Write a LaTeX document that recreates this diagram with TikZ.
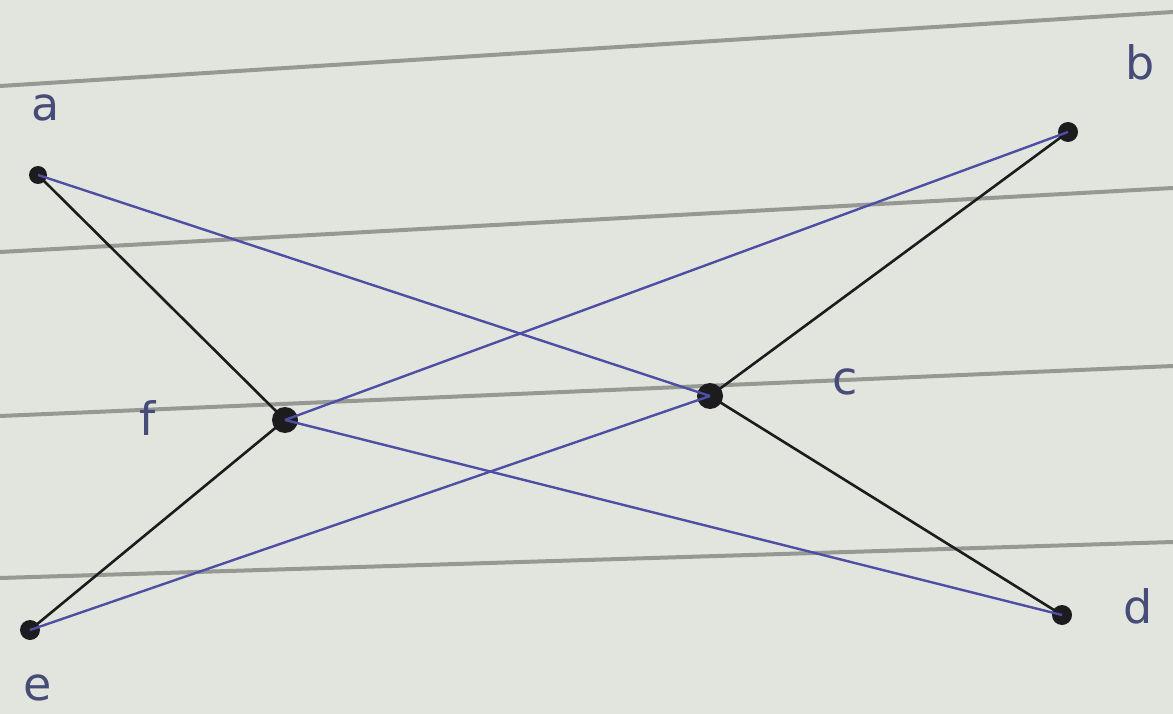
\documentclass[tikz,border=0pt]{standalone}
\usepackage{fontspec}
\setmainfont{DejaVu Sans}
\definecolor{paper}{RGB}{226,229,222}
\definecolor{rule}{RGB}{150,152,148}
\definecolor{penblue}{RGB}{78,78,165}
\definecolor{penblack}{RGB}{28,28,30}
\definecolor{labelc}{RGB}{70,75,120}
\tikzset{
  vtx/.style={circle,fill=penblack,inner sep=0pt,minimum size=20pt},
  blk/.style={draw=penblack,line width=2.6pt},
  blu/.style={draw=penblue,line width=2.4pt},
  ruled/.style={draw=rule,line width=4pt},
  lbl/.style={text=labelc,font=\fontsize{46}{46}\selectfont}
}
\begin{document}
\begin{tikzpicture}[x=1pt,y=-1pt]
\fill[paper] (0,0) rectangle (1173,714);
\useasboundingbox (0,0) rectangle (1173,714);
% paper rulings
\draw[ruled] (0,86) -- (1173,12);
\draw[ruled] (0,252) -- (1173,188);
\draw[ruled] (0,416) -- (1173,366);
\draw[ruled] (0,578) -- (1173,542);
% vertices
\node[vtx,minimum size=18pt] (a) at (38,175) {};
\node[vtx] (b) at (1068,132) {};
\node[vtx,minimum size=26pt] (c) at (710,396) {};
\node[vtx] (d) at (1062,615) {};
\node[vtx] (e) at (30,630) {};
\node[vtx,minimum size=26pt] (f) at (285,420) {};
% edges
\draw[blk] (a.center) -- (f.center);
\draw[blk] (f.center) -- (e.center);
\draw[blk] (b.center) -- (c.center);
\draw[blk] (c.center) -- (d.center);
\draw[blu] (a.center) -- (c.center);
\draw[blu] (b.center) -- (f.center);
\draw[blu] (f.center) -- (d.center);
\draw[blu] (e.center) -- (c.center);
% labels
\node[lbl] (la) at (46,108) {a};
\node[lbl] (lb) at (1140,62) {b};
\node[lbl] (lc) at (845,382) {c};
\node[lbl] (ld) at (1138,606) {d};
\node[lbl] (le) at (38,688) {e};
\node[lbl] (lf) at (148,418) {f};
\end{tikzpicture}
\end{document}
